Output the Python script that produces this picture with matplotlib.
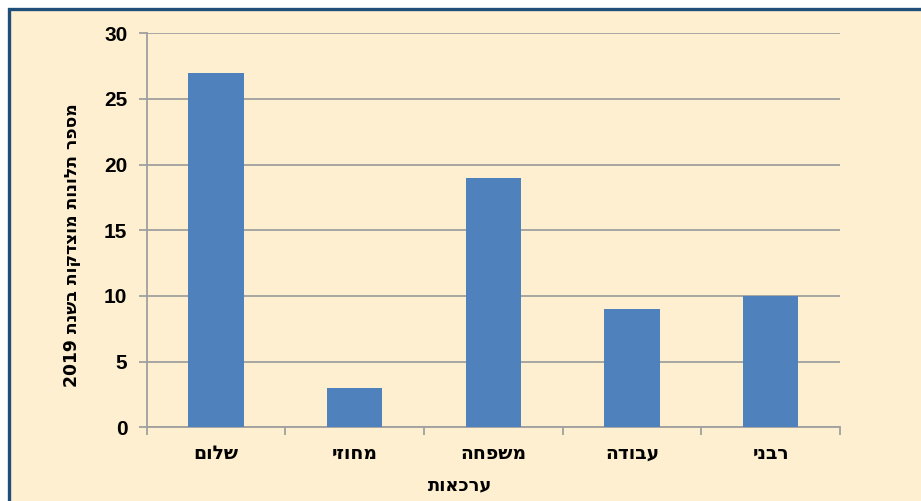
import re
import matplotlib
matplotlib.use("Agg")
import matplotlib.pyplot as plt
from matplotlib.patches import Rectangle

categories = ["שלום", "מחוזי", "משפחה", "עבודה", "רבני"]
values = [27, 3, 19, 9, 10]
y_ticks = [0, 5, 10, 15, 20, 25, 30]
y_label = "מספר תלונות מוצדקות בשנת 2019"
x_label = "ערכאות"


def visual(s):
    """Simple RTL -> visual order: reverse, keep digit runs LTR."""
    r = s[::-1]
    return re.sub(r"[0-9]+", lambda m: m.group(0)[::-1], r)


BG = "#FDEFCF"
BAR = "#4F81BD"
GRID = "#A0A0A0"
FAM = ["Liberation Sans", "DejaVu Sans"]
HEB = ["DejaVu Sans"]
plt.rcParams["font.family"] = FAM

W, H = 921, 501
fig = plt.figure(figsize=(W / 100, H / 100), dpi=100)
fig.patch.set_facecolor("white")

# framed background panel
fig.patches.append(Rectangle((9 / W, -0.05), 1.1, (H - 9.5) / H + 0.05,
                             transform=fig.transFigure, facecolor=BG,
                             edgecolor="#1F4E79", linewidth=2.4, zorder=-5))

ax = fig.add_axes([146.7 / W, 1 - 427.3 / H, (840 - 146.7) / W, (427.3 - 33.3) / H])
ax.set_zorder(2)
ax.set_facecolor("none")

x = list(range(len(categories)))
ax.bar(x, values, width=0.4, color=BAR, zorder=3)

ax.set_xlim(-0.5, len(categories) - 0.5)
ax.set_ylim(0, 30)
ax.set_yticks(y_ticks)
ax.set_yticklabels([str(t) for t in y_ticks], fontsize=15, fontweight="bold")
ax.yaxis.grid(True, color=GRID, linewidth=1.3, zorder=0)
ax.set_axisbelow(True)

ax.set_xticks(x)
ax.set_xticklabels([visual(c) for c in categories], fontsize=13.5,
                   fontweight="bold", family=HEB)
ax.tick_params(axis="x", length=0, pad=12)
ax.set_xticks([i - 0.5 for i in range(len(categories) + 1)], minor=True)
ax.tick_params(axis="x", which="minor", length=6, width=1.3, color=GRID)
ax.tick_params(axis="y", length=6, width=1.3, color=GRID, pad=8)

for s in ["top", "right"]:
    ax.spines[s].set_visible(False)
for s in ["left", "bottom"]:
    ax.spines[s].set_color(GRID)
    ax.spines[s].set_linewidth(1.3)

fig.text(72 / W, 1 - 245 / H, visual(y_label), rotation=90, fontsize=12.3,
         fontweight="bold", ha="center", va="center", family=HEB)
fig.text(460 / W, 1 - 485 / H, visual(x_label), fontsize=13,
         fontweight="bold", ha="center", va="center", family=HEB)

fig.savefig("out.png", dpi=100, facecolor=fig.get_facecolor())
